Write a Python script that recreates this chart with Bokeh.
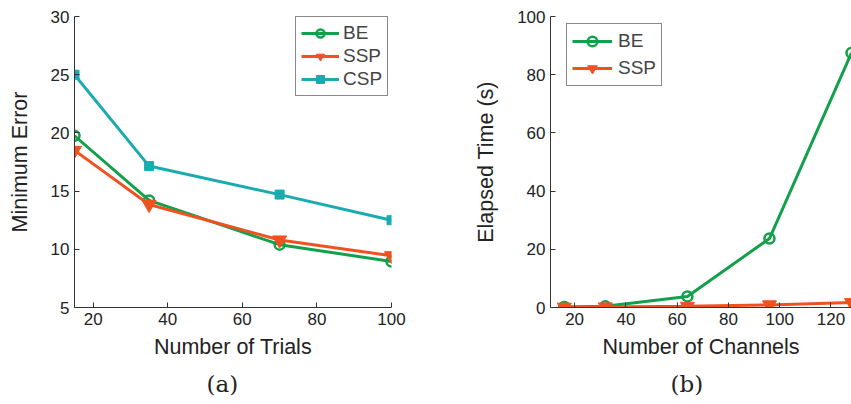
from bokeh.plotting import figure
from bokeh.layouts import row
from bokeh.models import Legend, LegendItem, Title, FixedTicker, Range1d
from bokeh.embed import file_html
from bokeh.resources import INLINE

# ---- data (a) ----
trials = [15, 35, 70, 100]
err_be = [19.75, 14.2, 10.4, 8.95]
err_ssp = [18.5, 13.85, 10.8, 9.45]
err_csp = [25.0, 17.15, 14.7, 12.5]

# ---- data (b) ----
channels = [16, 32, 64, 96, 128]
time_be = [0.2, 0.4, 3.8, 23.7, 87.5]
time_ssp = [0.1, 0.2, 0.4, 0.9, 1.7]

GREEN = "#14a04b"
RED = "#f1511f"
TEAL = "#19abb0"
FONT = "Liberation Sans"
SERIF = "DejaVu Serif"
AXC = "#333333"


def style(p, xticks, yticks):
    p.xgrid.visible = False
    p.ygrid.visible = False
    p.outline_line_color = None
    p.xaxis.ticker = FixedTicker(ticks=xticks)
    p.yaxis.ticker = FixedTicker(ticks=yticks)
    for ax in (p.xaxis[0], p.yaxis[0]):
        ax.major_tick_in = 5
        ax.major_tick_out = 0
        ax.minor_tick_line_color = None
        ax.axis_line_color = AXC
        ax.major_tick_line_color = AXC
        ax.major_label_text_font = FONT
        ax.major_label_text_font_size = "17px"
        ax.major_label_text_color = "#222222"
        ax.axis_label_text_font = FONT
        ax.axis_label_text_font_size = "21.5px"
        ax.axis_label_text_font_style = "normal"
        ax.axis_label_text_color = "#222222"
        ax.major_label_standoff = 5
    p.xaxis.axis_label_standoff = 7
    p.yaxis.axis_label_standoff = 16


def caption(p, text, offset):
    p.add_layout(Title(text=text, align="left", text_font=SERIF,
                       text_font_size="23px", text_font_style="normal",
                       text_color="#222222", standoff=14, offset=offset), "below")


# ---------- left ----------
p1 = figure(width=430, height=404, output_backend="svg", toolbar_location=None,
            x_range=Range1d(15, 100), y_range=Range1d(5, 30),
            min_border_left=74, min_border_right=39, min_border_top=16, min_border_bottom=97)
style(p1, [20, 40, 60, 80, 100], [5, 10, 15, 20, 25, 30])
p1.xaxis.axis_label = "Number of Trials"
p1.yaxis.axis_label = "Minimum Error"

l1 = p1.line(trials, err_be, line_color=GREEN, line_width=3)
m1 = p1.scatter(trials, err_be, marker="circle", size=10, fill_color=None,
                line_color=GREEN, line_width=2.5)
l2 = p1.line(trials, err_ssp, line_color=RED, line_width=3)
m2 = p1.scatter(trials, err_ssp, marker="inverted_triangle", size=14,
                fill_color=RED, line_color=RED)
l3 = p1.line(trials, err_csp, line_color=TEAL, line_width=3)
m3 = p1.scatter(trials, err_csp, marker="square", size=9,
                fill_color=TEAL, line_color=TEAL)

leg1 = Legend(items=[LegendItem(label="BE", renderers=[l1, m1]),
                     LegendItem(label="SSP", renderers=[l2, m2]),
                     LegendItem(label="CSP", renderers=[l3, m3])],
              location=(221, 211), border_line_color="#111111", border_line_width=1.5,
              background_fill_color="white", background_fill_alpha=1,
              label_text_font=FONT, label_text_font_size="19px",
              glyph_width=38, glyph_height=20, label_height=20, spacing=1,
              padding=5, label_standoff=4, margin=0)
p1.add_layout(leg1, "center")
caption(p1, "(a)", 132)

# ---------- right ----------
p2 = figure(width=421, height=404, output_backend="svg", toolbar_location=None,
            x_range=Range1d(10.6, 128), y_range=Range1d(0, 100),
            min_border_left=120, min_border_right=0, min_border_top=16, min_border_bottom=97)
style(p2, [20, 40, 60, 80, 100, 120], [0, 20, 40, 60, 80, 100])
p2.xaxis.axis_label = "Number of Channels"
p2.yaxis.axis_label = "Elapsed Time (s)"

k1 = p2.line(channels, time_be, line_color=GREEN, line_width=3)
n1 = p2.scatter(channels, time_be, marker="circle", size=10, fill_color=None,
                line_color=GREEN, line_width=2.5)
k2 = p2.line(channels, time_ssp, line_color=RED, line_width=3)
n2 = p2.scatter(channels, time_ssp, marker="inverted_triangle", size=14,
                fill_color=RED, line_color=RED)

leg2 = Legend(items=[LegendItem(label="BE", renderers=[k1, n1]),
                     LegendItem(label="SSP", renderers=[k2, n2])],
              location=(16, 221), border_line_color="#111111", border_line_width=1.5,
              background_fill_color="white", background_fill_alpha=1,
              label_text_font=FONT, label_text_font_size="19px",
              glyph_width=40, glyph_height=24, label_height=24, spacing=3,
              padding=5, label_standoff=6, margin=0)
p2.add_layout(leg2, "center")
caption(p2, "(b)", 120)

layout = row(p1, p2)
open("out.html", "w").write(file_html(layout, INLINE))
